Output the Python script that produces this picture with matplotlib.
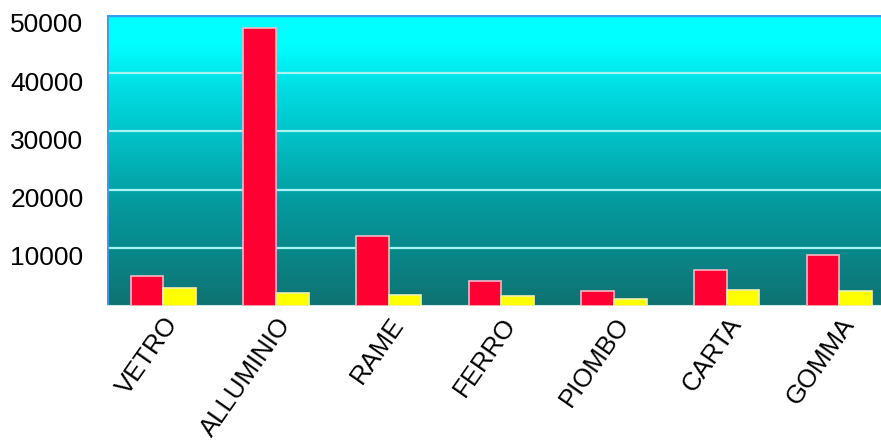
import numpy as np
import matplotlib
matplotlib.use('Agg')
import matplotlib.pyplot as plt
from matplotlib.colors import LinearSegmentedColormap
from matplotlib.transforms import ScaledTranslation

categories = ['VETRO', 'ALLUMINIO', 'RAME', 'FERRO', 'PIOMBO', 'CARTA', 'GOMMA']
red_values = [5100, 47700, 12050, 4250, 2650, 6100, 8700]
yellow_values = [3100, 2250, 1900, 1800, 1250, 2700, 2650]
y_ticks = [10000, 20000, 30000, 40000, 50000]

plt.rcParams['font.family'] = ['Liberation Sans', 'DejaVu Sans']

fig = plt.figure(figsize=(8.81, 4.46), dpi=100)
ax = fig.add_axes([107 / 881, 1 - 306 / 446, (881 - 107) / 881, (306 - 15) / 446])

x = np.arange(len(categories))
width = 0.29
ax.set_xlim(-0.5, 6.37)
ax.set_ylim(0, 50000)

# vertical gradient background: cyan on top fading to dark teal
bg = LinearSegmentedColormap.from_list('bg', [(0.0, '#0f7272'), (0.35, '#049a9e'),
                                              (0.75, '#00dde3'), (0.9, '#00ffff'), (1.0, '#00ffff')])
grad = np.linspace(0, 1, 256).reshape(-1, 1)
ax.imshow(grad, cmap=bg, aspect='auto', origin='lower',
          extent=[-0.5, 6.37, 0, 50000], zorder=0)

for t in y_ticks[:-1]:
    ax.axhline(t, color='#a8f4f4', linewidth=1.6, zorder=1)
ax.axhline(50000, color='#3a9cf0', linewidth=2.5, zorder=1)
ax.axvline(-0.5, color='#3a9cf0', linewidth=2.0, zorder=1)
ax.axhline(0, color='#cfe8e8', linewidth=1.5, zorder=1)

ax.bar(x - width / 2, red_values, width, color='#ff0033', edgecolor='#f4b8c4', linewidth=1.2, zorder=2)
ax.bar(x + width / 2, yellow_values, width, color='#ffff00', edgecolor='#f0f0b0', linewidth=1.2, zorder=2)

for s in ax.spines.values():
    s.set_visible(False)

ax.set_yticks(y_ticks)
ax.set_yticklabels([str(t) for t in y_ticks], fontsize=19)
ax.set_xticks(x)
ax.set_xticklabels(categories, fontsize=18.5, rotation=55, ha='right', va='top', rotation_mode='anchor')
ax.tick_params(axis='both', length=0)
ax.tick_params(axis='y', pad=17)
ax.tick_params(axis='x', pad=5)

# y labels sit a little below their gridlines
shift = ScaledTranslation(0, -8 / 100, fig.dpi_scale_trans)
for lbl in ax.get_yticklabels():
    lbl.set_transform(lbl.get_transform() + shift)

fig.savefig('out.png', dpi=100)
